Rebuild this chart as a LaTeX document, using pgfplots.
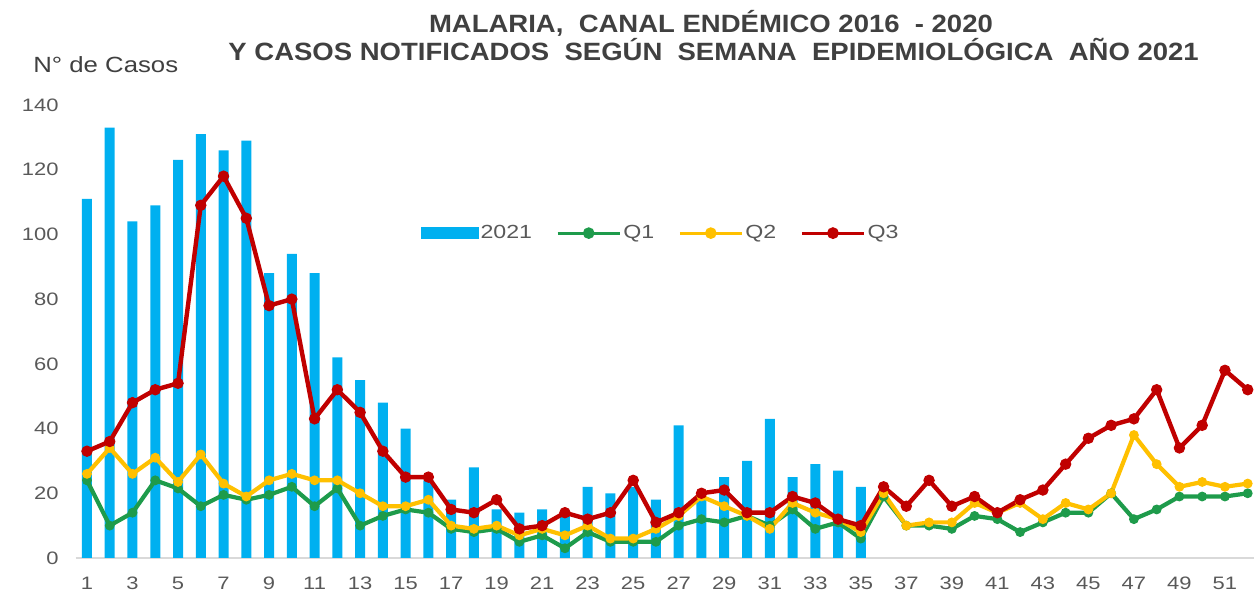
\documentclass[border=0pt]{standalone}
\usepackage{fontspec}
\setmainfont{Liberation Sans}[FakeStretch=1.22]
\newfontfamily\titlefont{Liberation Sans}[FakeStretch=1.1]
\newfontfamily\ylabfont{Liberation Sans}[FakeStretch=1.17]
\usepackage{pgfplots}
\usepackage{pgfplotstable}
\pgfplotsset{compat=1.18}
\definecolor{barblue}{RGB}{0,176,240}
\definecolor{qgreen}{RGB}{30,155,75}
\definecolor{qyellow}{RGB}{255,192,0}
\definecolor{qred}{RGB}{192,0,0}
\definecolor{ticktext}{RGB}{89,89,89}
\definecolor{titletext}{RGB}{64,64,64}
\definecolor{axisgray}{RGB}{217,217,217}

\pgfplotstableread{
w c
1 111
2 133
3 104
4 109
5 123
6 131
7 126
8 129
9 88
10 94
11 88
12 62
13 55
14 48
15 40
16 24
17 18
18 28
19 15
20 14
21 15
22 13
23 22
24 20
25 22
26 18
27 41
28 19
29 25
30 30
31 43
32 25
33 29
34 27
35 22
}\cases

\pgfplotstableread{
w q1 q2 q3
1 24 26 33
2 10 34 36
3 14 26 48
4 24 31 52
5 21.5 23.5 54
6 16 32 109
7 19.5 23 118
8 18 19 105
9 19.5 24 78
10 22 26 80
11 16 24 43
12 21.5 24 52
13 10 20 45
14 13 16 33
15 15 16 25
16 14 18 25
17 9 10 15
18 8 9 14
19 9 10 18
20 5 7 9
21 7 9 10
22 3 7 14
23 8 10 12
24 5 6 14
25 5 6 24
26 5 9 11
27 10 13 14
28 12 19 20
29 11 16 21
30 13 13 14
31 10 9 14
32 15 17 19
33 9 14 17
34 11 12 12
35 6 8 10
36 19 20 22
37 10 10 16
38 10 11 24
39 9 11 16
40 13 17 19
41 12 14 14
42 8 17 18
43 11 12 21
44 14 17 29
45 14 15 37
46 20 20 41
47 12 38 43
48 15 29 52
49 19 22 34
50 19 23.5 41
51 19 22 58
52 20 23 52
}\quart

\begin{document}
\begin{tikzpicture}
\begin{axis}[
  at={(0,0)}, anchor=south west,
  scale only axis,
  width=591.75pt, height=226.5pt,
  xmin=0.5, xmax=52.5, ymin=0, ymax=140,
  clip=false,
  axis x line*=bottom, axis y line*=left,
  x axis line style={draw=axisgray, line width=0.7pt},
  y axis line style={draw=none},
  major tick length=0pt,
  xtick={1,3,...,51},
  ytick={0,20,...,140},
  /pgf/number format/assume math mode=true,
  tick label style={font=\fontsize{9}{10}\selectfont, text=ticktext},
  xticklabel style={yshift=-6pt},
  yticklabel style={xshift=-5pt},
  legend columns=4,
  legend style={at={(axis cs:26.2,100.4)}, anchor=center, draw=none, fill=none,
    font=\fontsize{9.5}{11}\selectfont, text=ticktext,
    nodes={inner sep=1pt},
    /tikz/every even column/.append style={column sep=11pt}},
]
\addplot[ybar, bar width=5pt, bar shift=0pt, fill=barblue, draw=none,
  legend image code/.code={\fill[barblue] (0pt,-3pt) rectangle (29pt,3pt);}]
  table[x=w, y=c] {\cases};
\addlegendentry{2021}
\addplot[qgreen, line width=2.1pt, mark=*, mark size=2.2pt, mark options={fill=qgreen, draw=qgreen, line width=0.5pt},
  legend image code/.code={\draw[qgreen, line width=1.6pt] (0pt,0pt) -- (31pt,0pt); \fill[qgreen] (15.5pt,0pt) circle (1.8pt);}]
  table[x=w, y=q1] {\quart};
\addlegendentry{Q1}
\addplot[qyellow, line width=2.1pt, mark=*, mark size=2.2pt, mark options={fill=qyellow, draw=qyellow, line width=0.5pt},
  legend image code/.code={\draw[qyellow, line width=1.6pt] (0pt,0pt) -- (31pt,0pt); \fill[qyellow] (15.5pt,0pt) circle (1.8pt);}]
  table[x=w, y=q2] {\quart};
\addlegendentry{Q2}
\addplot[qred, line width=2.2pt, mark=*, mark size=2.6pt, mark options={fill=qred, draw=qred, line width=0.5pt},
  legend image code/.code={\draw[qred, line width=1.6pt] (0pt,0pt) -- (31pt,0pt); \fill[qred] (15.5pt,0pt) circle (1.8pt);}]
  table[x=w, y=q3] {\quart};
\addlegendentry{Q3}
\end{axis}
\node[anchor=base, text=titletext, font=\titlefont\bfseries\fontsize{12.5}{14}\selectfont] at (317.7pt,262.5pt) {MALARIA,\ \ CANAL ENDÉMICO 2016\ \ -\ 2020};
\node[anchor=base, text=titletext, font=\titlefont\bfseries\fontsize{12.5}{14}\selectfont] at (319pt,248.5pt) {Y CASOS NOTIFICADOS\ \ SEGÚN\ \ SEMANA\ \ EPIDEMIOLÓGICA\ \ AÑO 2021};
\node[anchor=base west, inner sep=0pt, text=titletext, font=\ylabfont\fontsize{11}{13}\selectfont] at (-21.3pt,242.5pt) {N° de Casos};
\pgfresetboundingbox
\path[use as bounding box] (-37.8pt,-19.5pt) rectangle (589.2pt,279pt);
\end{tikzpicture}
\end{document}
